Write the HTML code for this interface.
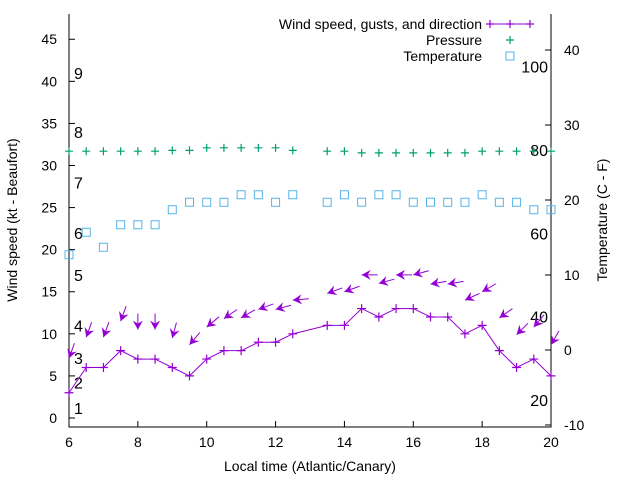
<!DOCTYPE html>
<html><head><meta charset="utf-8"><style>
body{margin:0;background:#fff}
svg{display:block;font-family:"Liberation Sans",sans-serif}
</style></head><body>
<svg id="c" width="640" height="480" viewBox="0 0 640 480"></svg>
<script>
const times=[6,6.5,7,7.5,8,8.5,9,9.5,10,10.5,11,11.5,12,12.5,13.5,14,14.5,15,15.5,16,16.5,17,17.5,18,18.5,19,19.5,20];
const windSpeed=[3,6,6,8,7,7,6,5,7,8,8,9,9,10,11,11,13,12,13,13,12,12,10,11,8,6,7,5];
const gusts=[7.1,9.6,9.6,11.5,10.5,10.5,9.5,8.7,10.8,11.8,11.9,12.9,12.9,14,14.8,15,17,16,17,17,15.9,15.9,14,15,11.9,9.9,10.8,8.7];
const windDir=[20,20,20,20,0,0,15,40,50,55,60,70,75,85,70,70,90,75,90,75,80,80,65,60,55,45,40,30];
const pressure=[31.7,31.7,31.7,31.7,31.7,31.7,31.8,31.8,32.1,32.1,32.1,32.1,32.1,31.8,31.7,31.7,31.5,31.5,31.5,31.5,31.5,31.5,31.5,31.7,31.7,31.7,31.7,31.7];
const temperature=[12.7,15.7,13.7,16.7,16.7,16.7,18.7,19.7,19.7,19.7,20.7,20.7,19.7,20.7,19.7,20.7,19.7,20.7,20.7,19.7,19.7,19.7,19.7,20.7,19.7,19.7,18.7,18.7];
const xTicks=[6,8,10,12,14,16,18,20];
const yTicks=[0,5,10,15,20,25,30,35,40,45];
const y2Ticks=[-10,0,10,20,30,40];
const beaufortLabels=["1","2","3","4","5","6","7","8","9"];
const beaufortPos=[1.2,4.2,7.1,11,17,22,28,34,41];
const fahrenheitLabels=[20,40,60,80,100];

const L=69,R=551,T=14,B=427;
const x=t=>L+(t-6)*(R-L)/14;
const y=v=>B-(v+1.07)*(B-T)/49.07;
const y2=c=>350-c*7.5;
const svg=document.getElementById('c');
const NS='http://www.w3.org/2000/svg';
function el(tag,attrs,parent){const e=document.createElementNS(NS,tag);for(const k in attrs)e.setAttribute(k,attrs[k]);(parent||svg).appendChild(e);return e;}
function txt(s,attrs,parent){const e=el('text',attrs,parent);e.textContent=s;return e;}

const axes=el('g',{});


el('path',{d:`M${L},${T}V${B}H${R}V${T}`,fill:'none',stroke:'#000','stroke-width':1},axes);
xTicks.forEach(t=>{
  el('line',{x1:x(t),x2:x(t),y1:B,y2:B-6,stroke:'#000'},axes);
  const e=txt(String(t),{x:x(t),y:B+20,'text-anchor':'middle','font-size':14},axes);
  
  
});
yTicks.forEach(v=>{
  el('line',{x1:L,x2:L+6,y1:y(v),y2:y(v),stroke:'#000'},axes);
  const e=txt(String(v),{x:L-12,y:y(v)+5,'text-anchor':'end','font-size':14},axes);
  
  
});
y2Ticks.forEach(c=>{
  el('line',{x1:R,x2:R-6,y1:y2(c),y2:y2(c),stroke:'#000'},axes);
  const e=txt(String(c),{x:R+13,y:y2(c)+5,'text-anchor':'start','font-size':14},axes);
  
  
});
const xt=txt('Local time (Atlantic/Canary)',{x:310,y:471,'text-anchor':'middle','font-size':14});


const yt=txt('Wind speed (kt - Beaufort)',{x:0,y:0,'text-anchor':'middle','font-size':14,transform:'translate(17,220) rotate(-90)'});


const y2t=txt('Temperature (C - F)',{x:0,y:0,'text-anchor':'middle','font-size':14,transform:'translate(607,220) rotate(-90)'});



beaufortLabels.forEach((s,i)=>{
  const e=txt(s,{x:74,y:y(beaufortPos[i])+6,'font-size':16});
  
  
});
fahrenheitLabels.forEach(f=>{
  const e=txt(String(f),{x:548,y:y2((f-32)*5/9)+6,'text-anchor':'end','font-size':16});
  
  
});

const purple='#9400d3',green='#009e73',blue='#56b4e9';
const wl=el('polyline',{points:times.map((t,i)=>x(t)+','+y(windSpeed[i])).join(' '),fill:'none',stroke:purple,'stroke-width':1});


function plus(cx,cy,col,s,name){const g=el('path',{d:`M${cx-s},${cy}H${cx+s}M${cx},${cy-s}V${cy+s}`,stroke:col,'stroke-width':1.2,fill:'none'});}
times.forEach((t,i)=>plus(x(t),y(windSpeed[i]),purple,4.5,'wind-speed-point'));
times.forEach((t,i)=>{
  const a=windDir[i]*Math.PI/180,tx=x(t),ty=y(gusts[i]);
  const dx=Math.sin(a),dy=-Math.cos(a);
  const g=el('g',{});
  
  
  el('line',{x1:tx,y1:ty,x2:tx+dx*16,y2:ty+dy*16,stroke:purple,'stroke-width':1},g);
  const hx=tx+dx*9,hy=ty+dy*9,px=-dy*5,py=dx*5;
  el('polygon',{points:`${tx},${ty} ${hx+px},${hy+py} ${tx+dx*6},${ty+dy*6} ${hx-px},${hy-py}`,fill:purple},g);
});
times.forEach((t,i)=>plus(x(t),y(pressure[i]),green,4,'pressure-point'));
times.forEach((t,i)=>{const r=el('rect',{x:x(t)-4,y:y2(temperature[i])-4,width:8,height:8,fill:'none',stroke:blue,'stroke-width':1});
  
  });

const lg=el('g',{});


const le=[['Wind speed, gusts, and direction',24],['Pressure',40],['Temperature',56]];
le.forEach((l,i)=>{const e=txt(l[0],{x:482,y:l[1]+5,'text-anchor':'end','font-size':14},lg);
  
  });
el('line',{x1:490,x2:530,y1:24,y2:24,stroke:purple},lg);
plus(490,24,purple,4,'legend-marker');plus(530,24,purple,4,'legend-marker');plus(510,24,purple,4,'legend-marker');
plus(510,40,green,4,'legend-marker');
el('rect',{x:506,y:52,width:8,height:8,fill:'none',stroke:blue},lg);
</script>
</body></html>
